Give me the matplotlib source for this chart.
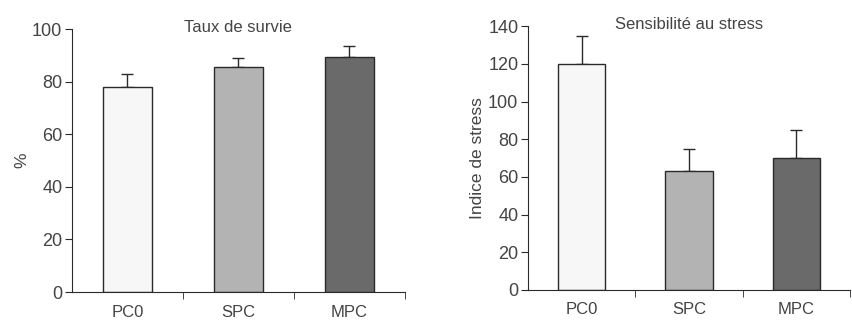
import numpy as np
import matplotlib
matplotlib.use("Agg")
import matplotlib.pyplot as plt

plt.rcParams['font.family'] = ['Liberation Sans', 'DejaVu Sans']

groups = ['PC0', 'SPC', 'MPC']
colors = ['#f7f7f7', '#b3b3b3', '#6a6a6a']

survie = [78, 85.5, 89.5]
survie_err = [5, 3.5, 4]

stress = [120, 63, 70]
stress_err = [15, 12, 15]

txt = '#444444'

fig = plt.figure(figsize=(8.53, 3.21), dpi=100)
ax1 = fig.add_axes([0.0844, 0.0903, 0.390, 0.819])
ax2 = fig.add_axes([0.619, 0.0966, 0.3775, 0.822])


def draw(ax, vals, errs, ymax, title, ylabel, lpad):
    x = np.arange(len(groups))
    ax.bar(x, vals, width=0.44, color=colors, edgecolor='#2a2a2a', linewidth=1.0, zorder=2)
    ax.errorbar(x, vals, yerr=[np.zeros(len(errs)), errs], fmt='none',
                ecolor='#2a2a2a', elinewidth=1.0, capsize=4.5, capthick=1.0, zorder=1)
    ax.set_xlim(-0.5, 2.5)
    ax.set_ylim(0, ymax)
    ax.set_yticks(np.arange(0, ymax + 1, 20))
    ax.set_xticks(x)
    ax.set_xticklabels(groups)
    ax.set_xticks([0.5, 1.5, 2.5], minor=True)
    ax.tick_params(axis='x', which='major', length=0, labelsize=12, labelcolor=txt, pad=9)
    ax.tick_params(axis='x', which='minor', length=5, color='#2a2a2a')
    ax.tick_params(axis='y', length=5, labelsize=13, labelcolor=txt, color='#2a2a2a', pad=2)
    for s in ['top', 'right']:
        ax.spines[s].set_visible(False)
    for s in ['left', 'bottom']:
        ax.spines[s].set_color('#2a2a2a')
    ax.set_title(title, fontsize=12, color=txt, y=1.0, pad=-2)
    ax.set_ylabel(ylabel, fontsize=12.5, color=txt, labelpad=lpad)


draw(ax1, survie, survie_err, 100, 'Taux de survie', '%', 2)
draw(ax2, stress, stress_err, 140, 'Sensibilité au stress', 'Indice de stress', 2)

fig.savefig('out.png', dpi=100)
